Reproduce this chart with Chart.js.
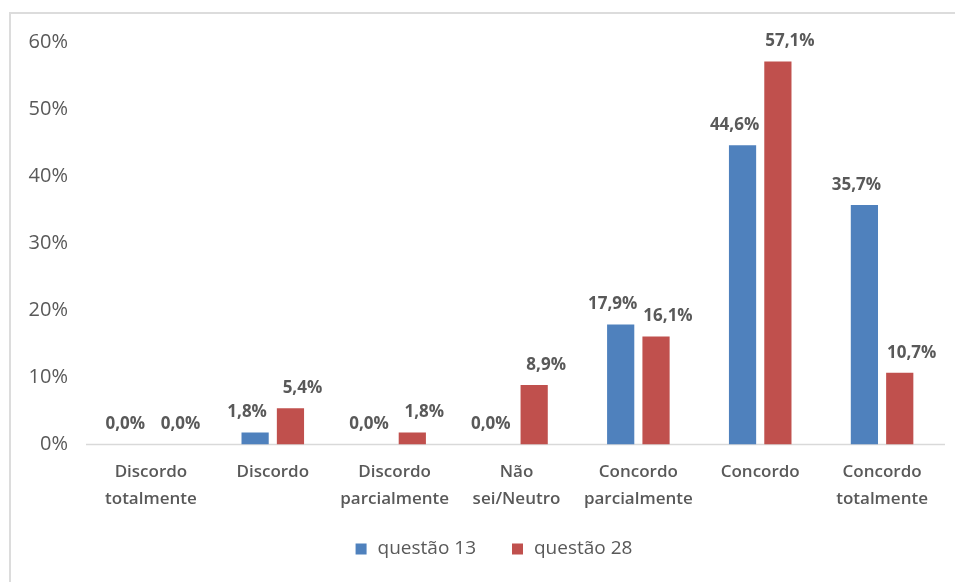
<!DOCTYPE html>
<html lang="pt">
<head>
<meta charset="utf-8">
<title>questão 13 x questão 28</title>
<script src="https://cdn.jsdelivr.net/npm/chart.js@4/dist/chart.umd.min.js"></script>
<style>
  html, body { margin: 0; padding: 0; background: #fff; }
  .wrap { position: relative; width: 955px; height: 582px; overflow: hidden; }
  .frame {
    position: absolute; left: 9px; top: 12px; width: 960px; height: 600px;
    border-top: 2px solid #dcdcdc; border-left: 2px solid #dcdcdc;
    box-sizing: border-box;
  }
  canvas { position: absolute; left: 0; top: 0; }
</style>
</head>
<body>
<div class="wrap">
  <div class="frame"></div>
  <canvas id="barChart" width="955" height="582"></canvas>
</div>
<script>
// === Data ===
const categories = [
  ["Discordo", "totalmente"],
  "Discordo",
  ["Discordo", "parcialmente"],
  ["Não", "sei/Neutro"],
  ["Concordo", "parcialmente"],
  "Concordo",
  ["Concordo", "totalmente"],
];
const questao13 = [0.0, 1.8, 0.0, 0.0, 17.9, 44.6, 35.7];
const questao28 = [0.0, 5.4, 1.8, 8.9, 16.1, 57.1, 10.7];
const yTicks = [0, 10, 20, 30, 40, 50, 60];

// === Theme ===
const FONT = "'Open Sans', 'DejaVu Sans', sans-serif";
const TEXT = "#595959";
const BLUE = "#4f81bd";
const RED = "#c0504d";

function fmtPct(v) {
  return v.toFixed(1).replace(".", ",") + "%";
}

// value labels above each bar, pushed a little outwards so neighbours don't touch
const labelNudge = [-8, 12];
const barLabels = {
  id: "barLabels",
  afterDatasetsDraw(chart) {
    const ctx = chart.ctx;
    ctx.save();
    ctx.font = "bold 17px " + FONT;
    ctx.fillStyle = TEXT;
    ctx.textAlign = "center";
    ctx.textBaseline = "middle";
    chart.data.datasets.forEach((ds, i) => {
      chart.getDatasetMeta(i).data.forEach((bar, j) => {
        ctx.fillText(fmtPct(ds.data[j]), bar.x + labelNudge[i], bar.y - 20);
      });
    });
    ctx.restore();
  },
};

// light baseline at 0%
const baseLine = {
  id: "baseLine",
  beforeDatasetsDraw(chart) {
    const { ctx, chartArea } = chart;
    const y = chart.scales.y.getPixelForValue(0);
    ctx.save();
    ctx.strokeStyle = "#d9d9d9";
    ctx.lineWidth = 1.5;
    ctx.beginPath();
    ctx.moveTo(chartArea.left - 4, y);
    ctx.lineTo(chartArea.right + 2, y);
    ctx.stroke();
    ctx.restore();
  },
};

// legend row under the axis labels
const bottomLegend = {
  id: "bottomLegend",
  afterDraw(chart) {
    const ctx = chart.ctx;
    const box = 11, gap = 11, itemGap = 36, y = 549, center = 494;
    ctx.save();
    ctx.font = "19px " + FONT;
    ctx.textBaseline = "middle";
    const items = chart.data.datasets.map((ds) => ({
      text: ds.label,
      color: ds.backgroundColor,
      w: box + gap + ctx.measureText(ds.label).width,
    }));
    const total = items.reduce((s, it) => s + it.w, 0) + itemGap * (items.length - 1);
    let x = center - total / 2;
    items.forEach((it) => {
      ctx.fillStyle = it.color;
      ctx.fillRect(x, y - box / 2, box, box);
      ctx.fillStyle = TEXT;
      ctx.fillText(it.text, x + box + gap, y);
      x += it.w + itemGap;
    });
    ctx.restore();
  },
};

function createChart() {
  const ctx = document.getElementById("barChart").getContext("2d");
  return new Chart(ctx, {
    type: "bar",
    data: {
      labels: categories,
      datasets: [
        {
          label: "questão 13",
          data: questao13,
          backgroundColor: BLUE,
          barPercentage: 0.77,
          categoryPercentage: 0.58,
        },
        {
          label: "questão 28",
          data: questao28,
          backgroundColor: RED,
          barPercentage: 0.77,
          categoryPercentage: 0.58,
        },
      ],
    },
    options: {
      responsive: false,
      animation: false,
      layout: { padding: { top: 42, right: 12, bottom: 55, left: 0 } },
      plugins: {
        legend: { display: false },
        tooltip: { enabled: false },
      },
      scales: {
        y: {
          min: 0,
          max: 60,
          afterFit: (s) => { s.width = 90; },
          afterBuildTicks: (s) => { s.ticks = yTicks.map((v) => ({ value: v })); },
          grid: { display: false, drawTicks: false },
          border: { display: false },
          ticks: {
            color: TEXT,
            padding: 22,
            font: { family: FONT, size: 20 },
            callback: (v) => v + "%",
          },
        },
        x: {
          grid: { display: false, drawTicks: false },
          border: { display: false },
          ticks: {
            color: TEXT,
            padding: 14,
            maxRotation: 0,
            autoSkip: false,
            font: { family: FONT, size: 17, weight: "600", lineHeight: 1.6 },
          },
        },
      },
    },
    plugins: [baseLine, barLabels, bottomLegend],
  });
}

window.onload = function () {
  createChart();
};
</script>
</body>
</html>
